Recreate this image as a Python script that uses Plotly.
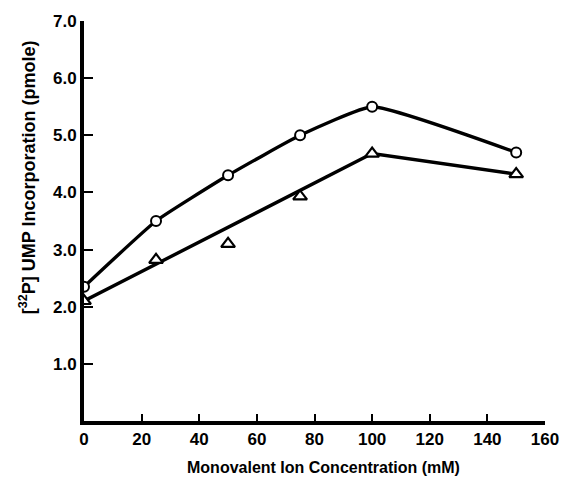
import plotly.graph_objects as go

conc_circle = [0, 25, 50, 75, 100, 150]
upt_circle = [2.35, 3.5, 4.3, 5.0, 5.5, 4.7]
conc_tri = [0, 25, 50, 75, 100, 150]
upt_tri = [2.1, 2.82, 3.1, 3.93, 4.68, 4.32]
fit_tri_x = [0, 100, 150]
fit_tri_y = [2.1, 4.68, 4.32]

x_ticks = [0, 20, 40, 60, 80, 100, 120, 140, 160]
y_ticks = [1, 2, 3, 4, 5, 6, 7]
y_labels = ["1.0", "2.0", "3.0", "4.0", "5.0", "6.0", "7.0"]

FONT = "Liberation Sans, Arial, Helvetica, sans-serif"

fig = go.Figure()
fig.add_trace(go.Scatter(x=conc_circle, y=upt_circle, mode="lines",
                         line=dict(color="black", width=3.4, shape="spline", smoothing=0.4),
                         showlegend=False, hoverinfo="skip"))
fig.add_trace(go.Scatter(x=fit_tri_x, y=fit_tri_y, mode="lines",
                         line=dict(color="black", width=3.4),
                         showlegend=False, hoverinfo="skip"))
fig.add_trace(go.Scatter(x=conc_circle, y=upt_circle, mode="markers",
                         marker=dict(symbol="circle", size=10, color="white",
                                     line=dict(color="black", width=2)),
                         showlegend=False))
fig.add_trace(go.Scatter(x=conc_tri, y=upt_tri, mode="markers",
                         marker=dict(symbol="triangle-up", size=12, color="white",
                                     line=dict(color="black", width=2.2)),
                         showlegend=False))

fig.update_layout(
    width=571, height=479,
    margin=dict(l=84, r=22, t=21, b=58),
    paper_bgcolor="white", plot_bgcolor="white",
    font=dict(family=FONT, color="black"),
    xaxis=dict(range=[0, 160], tickvals=x_ticks, ticktext=[f"<b>{v}</b>" for v in x_ticks],
               showgrid=False, zeroline=False, showline=True, linecolor="black", linewidth=3.8,
               ticks="inside", ticklen=7, tickwidth=2, tickcolor="black",
               tickfont=dict(size=17, family=FONT), fixedrange=True),
    yaxis=dict(range=[0, 7], tickvals=y_ticks, ticktext=[f"<b>{t}</b>" for t in y_labels],
               showgrid=False, zeroline=False, showline=True, linecolor="black", linewidth=3.8,
               ticks="inside", ticklen=9, tickwidth=2, tickcolor="black",
               tickfont=dict(size=17, family=FONT), ticklabelstandoff=0, fixedrange=True),
    annotations=[
        dict(text="<b>Monovalent Ion Concentration (mM)</b>", xref="paper", yref="paper",
             x=0.52, y=-0.115, xanchor="center", yanchor="middle", showarrow=False,
             font=dict(size=16, family=FONT)),
        dict(text="<b>[<sup>32</sup>P] UMP Incorporation (pmole)</b>", xref="paper", yref="paper",
             x=-0.123, y=0.61, xanchor="center", yanchor="middle", showarrow=False,
             textangle=-90, font=dict(size=18, family=FONT)),
    ],
)

fig.write_html("out.html")
